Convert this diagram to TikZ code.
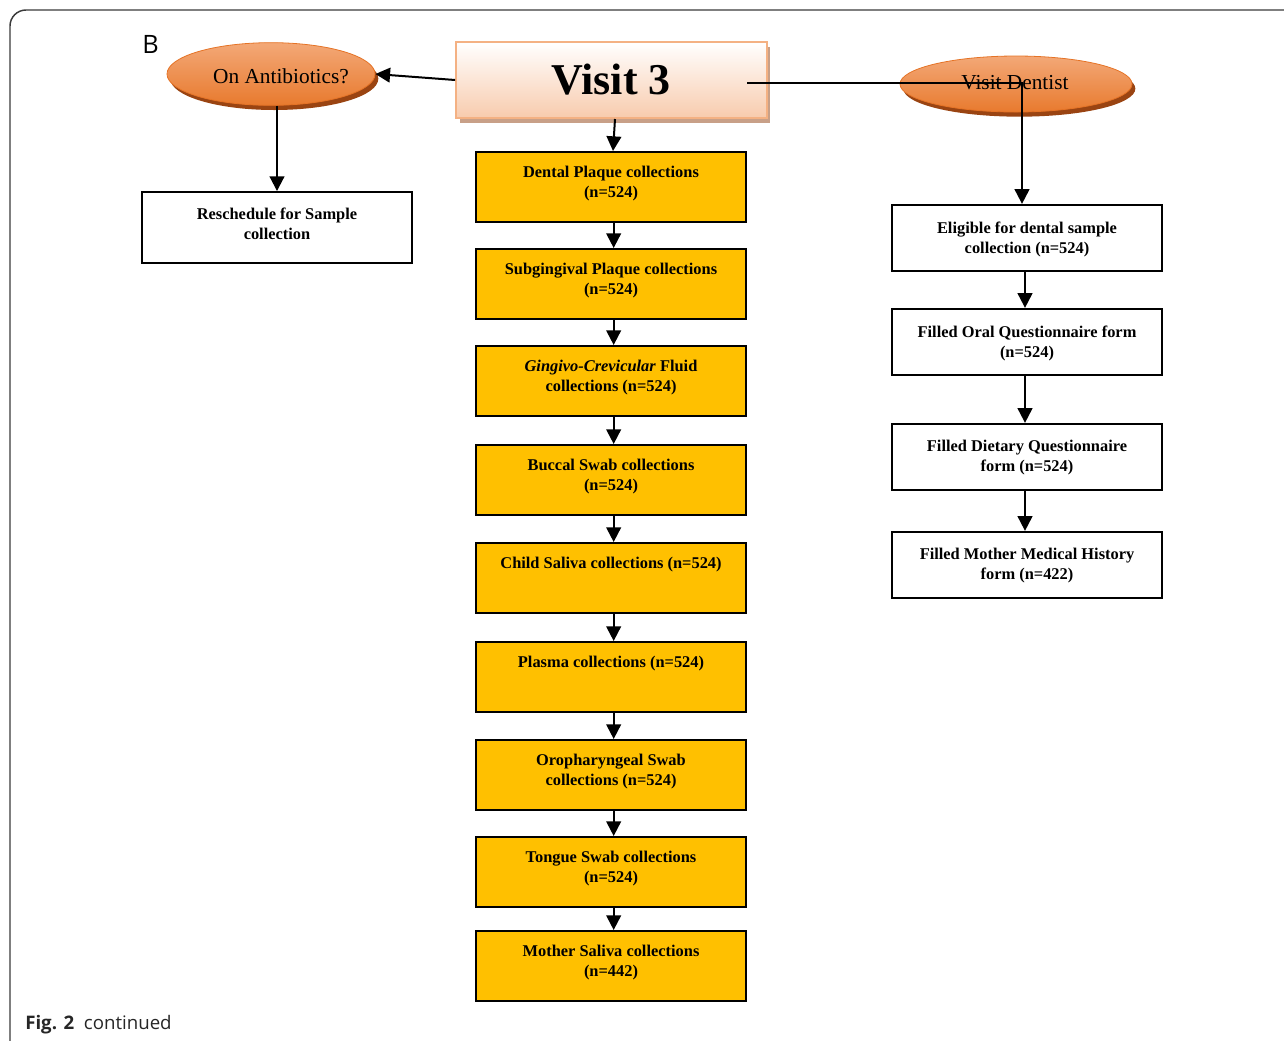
\documentclass[tikz,border=0pt]{standalone}
\usepackage{fontspec}
\setmainfont{Liberation Serif}
\newfontfamily\capfont{Open Sans}
\usetikzlibrary{arrows.meta,shapes.geometric,shadows}
\definecolor{boxgold}{HTML}{FFC000}
\definecolor{peach}{HTML}{F8CBAD}
\definecolor{peachborder}{HTML}{F4B183}
\definecolor{peachshadow}{HTML}{C8A088}
\definecolor{orangetop}{HTML}{F3A877}
\definecolor{orangebot}{HTML}{E87A2E}
\definecolor{orangeborder}{HTML}{E57326}
\definecolor{brownshadow}{HTML}{9A4412}
\definecolor{framegray}{HTML}{3A3A3A}
\tikzset{
  arr/.style={line width=1.5pt, -{Triangle[length=11pt,width=11pt]}},
  goldbox/.style={draw=black, line width=1.7pt, fill=boxgold, minimum width=202.5pt, minimum height=52.5pt, inner sep=0pt},
  whitebox/.style={draw=black, line width=1.7pt, fill=white, minimum width=202.5pt, inner sep=0pt},
  boxtext/.style={font=\fontsize{12.3}{15}\selectfont\bfseries, align=center, inner sep=0pt},
  oval/.style={ellipse, draw=orangeborder, line width=0.6pt, top color=orangetop, bottom color=orangebot, inner sep=0pt,
    drop shadow={shadow xshift=2.5pt, shadow yshift=-3.5pt, fill=brownshadow, opacity=1}},
  ovaltext/.style={font=\fontsize{16}{18}\selectfont}
}
\begin{document}
\begin{tikzpicture}[x=0.75pt,y=-0.75pt]
\useasboundingbox (0,0) rectangle (1284,1040);
% frame
\draw[framegray, line width=1.1pt] (10,1045) -- (10,26) arc[start angle=180,end angle=90,radius=12pt] -- (1290,10);
\node[font=\capfont\fontsize{19}{22}\selectfont, anchor=base west, inner sep=0pt] (lblB) at (142,53) {B};
\node[font=\capfont\fontsize{14}{16}\selectfont, anchor=base west, inner sep=0pt, text=black!85] (cap) at (25,1029) {\textbf{Fig. 2}\ \ continued};

% top row
\node[draw=peachborder, line width=1.5pt, top color=white, bottom color=peach, minimum width=233pt, minimum height=57pt, inner sep=0pt,
  drop shadow={shadow xshift=2.5pt, shadow yshift=-3.5pt, fill=peachshadow, opacity=1}] (v3) at (611.5,80) {};
\node[font=\fontsize{33}{36}\selectfont\bfseries, inner sep=0pt] (v3t) at (611,80) {Visit 3};
\node[oval, minimum width=156pt, minimum height=47pt] (anti) at (271,74) {};
\node[ovaltext, inner sep=0pt] (antit) at (281,76) {On Antibiotics?};
\node[oval, minimum width=174pt, minimum height=42pt] (dent) at (1016,84) {};
\node[ovaltext, inner sep=0pt] (dentt) at (1015,83) {Visit Dentist};

% left box
\node[whitebox, minimum height=53pt] (resch) at (277,227.5) {};
\node[boxtext, anchor=north] (rescht) at (277,208) {Reschedule for Sample\\collection};

% center column
\foreach \n/\t/\txt in {
  dp/151/{Dental Plaque collections\\(n=524)},
  sp/248/{Subgingival Plaque collections\\(n=524)},
  gc/345/{\textit{Gingivo-Crevicular} Fluid\\collections (n=524)},
  bs/444/{Buccal Swab collections\\(n=524)},
  cs/542/{Child Saliva collections (n=524)},
  pl/641/{Plasma collections (n=524)},
  os/739/{Oropharyngeal Swab\\collections (n=524)},
  ts/836/{Tongue Swab collections\\(n=524)},
  ms/930/{Mother Saliva collections\\(n=442)}}{
  \node[goldbox, anchor=north] (\n) at (611,\t) {};
  \node[boxtext, anchor=north] (\n t) at (611,\t+15) {\txt};
}

% right column
\foreach \n/\c/\txt in {
  el/238/{Eligible for dental sample\\collection (n=524)},
  oq/342/{Filled Oral Questionnaire form\\(n=524)},
  dq/457/{Filled Dietary Questionnaire\\form (n=524)},
  mh/565/{Filled Mother Medical History\\form (n=422)}}{
  \node[whitebox, minimum height=49.5pt] (\n) at (1027,\c) {};
  \node[boxtext] (\n t) at (1027,\c+1) {\txt};
}

% connectors
\coordinate (v3r) at (747,83);
\coordinate (v3b) at (615,119);
\draw[arr] (v3.west) -- (anti.east);
\draw[arr] (anti.south -| resch.north) -- (resch.north);
\draw[arr] (v3b) -- ([xshift=1.5pt]dp.north);
\foreach \a/\b in {dp/sp, sp/gc, gc/bs, bs/cs, cs/pl, pl/os, os/ts, ts/ms}{
  \draw[arr] ([xshift=2pt]\a.south) -- ([xshift=2pt]\b.north);
}
\draw[arr] (v3r) -| ([xshift=-3.75pt]el.north);
\foreach \a/\b in {el/oq, oq/dq, dq/mh}{
  \draw[arr] ([xshift=-1.5pt]\a.south) -- ([xshift=-1.5pt]\b.north);
}
\end{tikzpicture}
\end{document}
